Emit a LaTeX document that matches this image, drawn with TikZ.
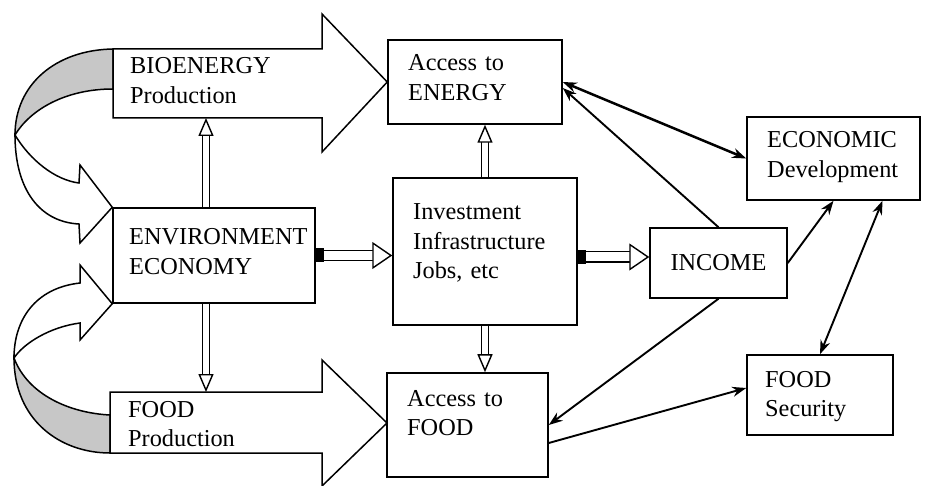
\documentclass[tikz,border=0pt]{standalone}
\usepackage{fontspec}
\setmainfont{Liberation Serif}
\usetikzlibrary{arrows.meta,calc}

\begin{document}
\begin{tikzpicture}[x=1bp,y=-1bp]
    \newcommand\hol[2]{\draw[hol] (#1) -- (#2);}
    \newcommand\lnk[2]{\draw[con] (#1) -- (#2);}
    \tikzstyle{box}=[draw,line width=1.5bp,inner sep=0pt]
    \tikzstyle{txt}=[anchor=base west,inner sep=0pt,text width=200bp,align=left,
                     font=\fontsize{24.4}{29.5}\selectfont]
    \tikzstyle{big}=[draw,line width=1.5bp,fill=white]
    \tikzstyle{ruban}=[draw,line width=1.5bp,fill=black!22]
    \tikzstyle{hol}=[double=white,double distance=5.5bp,line width=1.4bp,
                     -{Triangle[length=18bp,width=15bp,fill=white,line width=1.4bp]}]
    \tikzstyle{holh}=[double distance=9bp,
                     {Rectangle[length=8bp,width=14bp,line width=1.4bp]}-{Triangle[length=20bp,width=27bp,fill=white,line width=1.4bp]}]
    \tikzstyle{con}=[line width=1.9bp,-{Stealth[length=14bp,width=10bp]}]
    \tikzstyle{con2}=[con,{Stealth[length=14bp,width=10bp]}-{Stealth[length=14bp,width=10bp]}]
    \useasboundingbox (0,0) rectangle (929,486);
    % boites
    \node[box,minimum width=174bp,minimum height=84bp] (accen) at (475,82) {};
    \node[box,minimum width=173bp,minimum height=83bp] (econ) at (833.5,158.5) {};
    \node[box,minimum width=202bp,minimum height=95bp] (env) at (214,255.5) {};
    \node[box,minimum width=184bp,minimum height=147bp] (inv) at (485,251.5) {};
    \node[box,minimum width=137bp,minimum height=70bp,
          font=\fontsize{24.4}{29.5}\selectfont] (income) at (718.5,263) {INCOME};
    \node[box,minimum width=146bp,minimum height=80bp] (fsec) at (820,395) {};
    \node[box,minimum width=161bp,minimum height=104bp] (accfood) at (467.5,425) {};
    % rubans a gauche
    \draw[ruban] (113,49) .. controls (55,50) and (15,85) .. (15,135)
                 .. controls (30,110) and (65,89) .. (113,89) -- cycle;
    \draw[big] (15,135) .. controls (30,160) and (55,180) .. (79,183) -- (80,165)
               -- (env.north west) -- (80,243) -- (79,224)
               .. controls (40,222) and (15,190) .. (15,135) -- cycle;
    \draw[big] (14,358) .. controls (24,343) and (50,327) .. (80,323) -- (80,340)
               -- (env.south west) -- (80,265) -- (80,283)
               .. controls (35,288) and (14,320) .. (14,358) -- cycle;
    \draw[ruban] (14,358) .. controls (14,420) and (60,453) .. (110,453)
                 -- (110,415) .. controls (70,413) and (28,395) .. (14,358) -- cycle;
    % grosses fleches
    \draw[big] (113,49) -- (322,49) -- (322,14) -- (accen.west) -- (322,152) -- (322,118)
               -- (206,118) coordinate (bio-s) -- (113,118) -- cycle;
    \draw[big] (110,392) -- (206,392) coordinate (food-n) -- (322,392) -- (322,360)
               -- (387,423) -- (322,486) -- (322,453) -- (110,453) -- cycle;
    % textes
    \node[txt] (bio-t) at (130,74) {BIOENERGY\\Production};
    \node[txt] (accen-t) at (408,71) {Access to\\ENERGY};
    \node[txt] (econ-t) at (767,148) {ECONOMIC\\Development};
    \node[txt] (env-t) at (129,245) {ENVIRONMENT\\ECONOMY};
    \node[txt] (inv-t) at (413,220) {Investment\\Infrastructure\\Jobs, etc};
    \node[txt] (fsec-t) at (765,387) {FOOD\\Security};
    \node[txt] (accfood-t) at (407,406) {Access to\\FOOD};
    \node[txt] (food-t) at (128,417) {FOOD\\Production};
    % fleches creuses
    \hol{env.north -| bio-s}{bio-s}
    \hol{env.south -| food-n}{food-n}
    \hol{inv.north}{inv.north |- accen.south}
    \hol{inv.south}{inv.south |- accfood.north}
    \draw[hol,holh] (env.east) -- (env.east -| inv.west);
    \draw[hol,holh] ([yshift=-5.5bp]inv.east) -- ([yshift=-5.5bp]inv.east -| income.west);
    % liens noirs
    \draw[con2,line width=2.5bp] (accen.east) -- (econ.west);
    \lnk{income.north}{[yshift=-6bp]accen.east}
    \lnk{income.east}{econ.south}
    \draw[con2] ([xshift=49bp]econ.south) -- (fsec.north);
    \lnk{income.south}{accfood.east}
    \lnk{[yshift=-18bp]accfood.east}{[yshift=7bp]fsec.west}
\end{tikzpicture}
\end{document}
